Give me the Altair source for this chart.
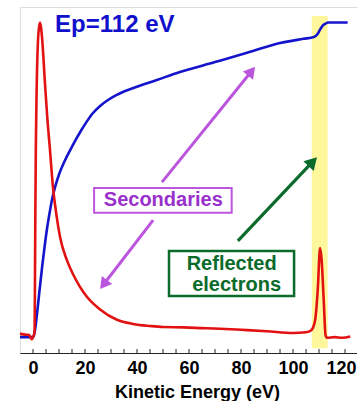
import math
import altair as alt
import pandas as pd

# Electron energy distribution measured with a 112 eV primary beam
red_energy = [-5, -3, -1.5, -0.5, 0.6, 0.75, 0.9, 1.1, 1.4, 1.9, 2.4, 2.7, 3.1, 3.5, 4.6,
              5.5, 6.5, 7.6, 9.0, 10.4, 13, 15.5, 18, 20.8, 25.8, 32.3, 38.5, 45,
              50, 58, 65, 72, 80, 90, 100, 105, 107, 108.5, 109.5, 110.4, 111, 111.8,
              112.5, 113, 116, 119, 122]
red_counts = [5.6, 5.3, 5.2, 4.0, 6.0, 20, 40, 60, 76, 90, 94.5, 95.4, 94, 91, 78,
              68, 59, 48.6, 40, 33.5, 26.9, 22.6, 19.2, 16.2, 12.6, 9.6, 8.4, 7.8,
              7.5, 7.4, 7.2, 7.0, 6.7, 6.3, 5.8, 6.0, 6.6, 9.5, 18.2, 30.3, 26.9, 15.3,
              5.2, 4.4, 4.6, 4.4, 4.8]

# Integrated signal
blue_energy = [-5, -2, 0, 0.5, 1.0, 1.5, 2.5, 3.5, 4.5, 5.5, 6.5, 7.5, 8.7, 10, 12,
               14.2, 16.2, 18.5, 20.6, 23, 25.8, 29, 32.2, 38.6, 47.6, 56.5, 70, 82, 95,
               104, 108, 109.5, 110.5, 111.5, 112.5, 113.5, 117, 121]
blue_counts = [4.6, 4.6, 4.6, 5.5, 7.8, 11.0, 18.0, 24.8, 31.0, 36.5, 41.0, 45.0, 48.5, 51.6, 55.2,
               58.5, 61.3, 64.3, 66.8, 69.3, 71.4, 73.2, 74.6, 76.6, 78.9, 81.2, 84.1, 86.7, 89.6,
               90.8, 91.3, 92.3, 93.6, 94.7, 95.2, 95.5, 95.5, 95.5]

tick_values = list(range(0, 125, 5))
label_values = list(range(0, 121, 20))

X_MIN, X_MAX = -5, 124.6
Y_MIN, Y_MAX = 0, 100
W, H = 337, 346
px_x = W / (X_MAX - X_MIN)
px_y = H / (Y_MAX - Y_MIN)

x_scale = alt.Scale(domain=[X_MIN, X_MAX], nice=False, zero=False)
y_scale = alt.Scale(domain=[Y_MIN, Y_MAX], nice=False, zero=False)

red_df = pd.DataFrame({"E": red_energy, "I": red_counts})
blue_df = pd.DataFrame({"E": blue_energy, "I": blue_counts})

FONT = "Liberation Sans"

energy_axis = alt.Axis(values=label_values, title="Kinetic Energy (eV)",
                       tickSize=0, labelPadding=6, labelFont=FONT, labelFontSize=18,
                       labelFontWeight="bold", labelColor="black",
                       labelOffset=alt.ExprRef(expr="datum.value == 120 ? -4 : 0"),
                       titleFont=FONT, titleFontSize=18, titleFontWeight="bold",
                       titleColor="black", titleX=177, titleY=44,
                       titleBaseline="alphabetic", domainColor="#222",
                       grid=False)

# Highlight of the elastic peak region (carries the energy axis)
band_df = pd.DataFrame({"x1": [107.2], "x2": [113.3], "y1": [1.4], "y2": [97.4]})
band = alt.Chart(band_df).mark_rect(color="#FFF79C").encode(
    x=alt.X("x1:Q", scale=x_scale, axis=energy_axis), x2="x2:Q",
    y=alt.Y("y1:Q", scale=y_scale, axis=None), y2="y2:Q")

y_enc = alt.Y("I:Q", scale=y_scale, axis=None)
red = alt.Chart(red_df).mark_line(color="#E31212", strokeWidth=2.6, interpolate="monotone").encode(
    x=alt.X("E:Q", scale=x_scale), y=y_enc)
blue = alt.Chart(blue_df).mark_line(color="#1414CC", strokeWidth=2.6, interpolate="monotone").encode(
    x=alt.X("E:Q", scale=x_scale), y=y_enc)

# Inward ticks on the energy axis
tick_df = pd.DataFrame({"t": tick_values})
ticks = alt.Chart(tick_df).mark_rule(color="#222", strokeWidth=1).encode(
    x=alt.X("t:Q", scale=x_scale),
    y=alt.value(H - 4), y2=alt.value(H))


def arrow(x0, y0, x1, y1, color, width, head):
    """Shaft plus a triangular head ending at (x1, y1)."""
    dx = (x1 - x0) * px_x
    dy = -(y1 - y0) * px_y
    length = math.hypot(dx, dy)
    ang = math.degrees(math.atan2(dx, -dy)) % 360
    back = math.sqrt(head) * math.sqrt(3) / 4
    cx = x1 - (dx / length) * back / px_x
    cy = y1 + (dy / length) * back / px_y
    shaft_df = pd.DataFrame({"x": [x0, cx], "y": [y0, cy]})
    shaft = alt.Chart(shaft_df).mark_line(color=color, strokeWidth=width).encode(
        x=alt.X("x:Q", scale=x_scale), y=alt.Y("y:Q", scale=y_scale))
    tip = alt.Chart(pd.DataFrame({"x": [cx], "y": [cy]})).mark_point(
        shape="triangle-up", filled=True, opacity=1, color=color, size=head, angle=ang).encode(
        x=alt.X("x:Q", scale=x_scale), y=alt.Y("y:Q", scale=y_scale))
    return shaft + tip


PURPLE = "#BB55DD"
PURPLE_TEXT = "#9A30CC"
GREEN = "#0B6B2B"

arrows = (arrow(49.6, 49.4, 85.4, 82.7, PURPLE, 3, 170)
          + arrow(46.2, 38.4, 25.8, 18.5, PURPLE, 3, 170)
          + arrow(78.8, 32.4, 109.2, 56.6, GREEN, 3.2, 200))


def box(x1, x2, y1, y2, color, width):
    df = pd.DataFrame({"x1": [x1], "x2": [x2], "y1": [y1], "y2": [y2]})
    return alt.Chart(df).mark_rect(fill="white", stroke=color, strokeWidth=width).encode(
        x=alt.X("x1:Q", scale=x_scale), x2="x2:Q",
        y=alt.Y("y1:Q", scale=y_scale), y2="y2:Q")


def label(x, y, text, color, size, align="center", baseline="middle"):
    df = pd.DataFrame({"x": [x], "y": [y], "t": [text]})
    return alt.Chart(df).mark_text(font=FONT, fontSize=size, fontWeight="bold", color=color,
                                   align=align, baseline=baseline).encode(
        x=alt.X("x:Q", scale=x_scale), y=alt.Y("y:Q", scale=y_scale), text="t:N")


annotations = (box(23.5, 76.4, 40.5, 47.7, PURPLE, 2)
               + label(50.1, 44.2, "Secondaries", PURPLE_TEXT, 20)
               + box(52.3, 100.4, 16.5, 29.5, GREEN, 2.5)
               + label(76.4, 24.0, "Reflected", GREEN, 20, baseline="alphabetic")
               + label(78.3, 17.9, "electrons", GREEN, 20, baseline="alphabetic")
               + label(8.5, 92.8, "Ep=112 eV", "#1010CC", 24, align="left",
                       baseline="alphabetic"))

chart = (band + ticks + blue + red + arrows + annotations).properties(
    width=W, height=H,
    autosize=alt.AutoSizeParams(type="none"),
    padding={"left": 20, "top": 7, "right": 0, "bottom": 48},
).configure_view(stroke="#333", strokeWidth=1.2).configure(background="white")

chart.save("out.html", embed_options={"renderer": "svg", "actions": False})
